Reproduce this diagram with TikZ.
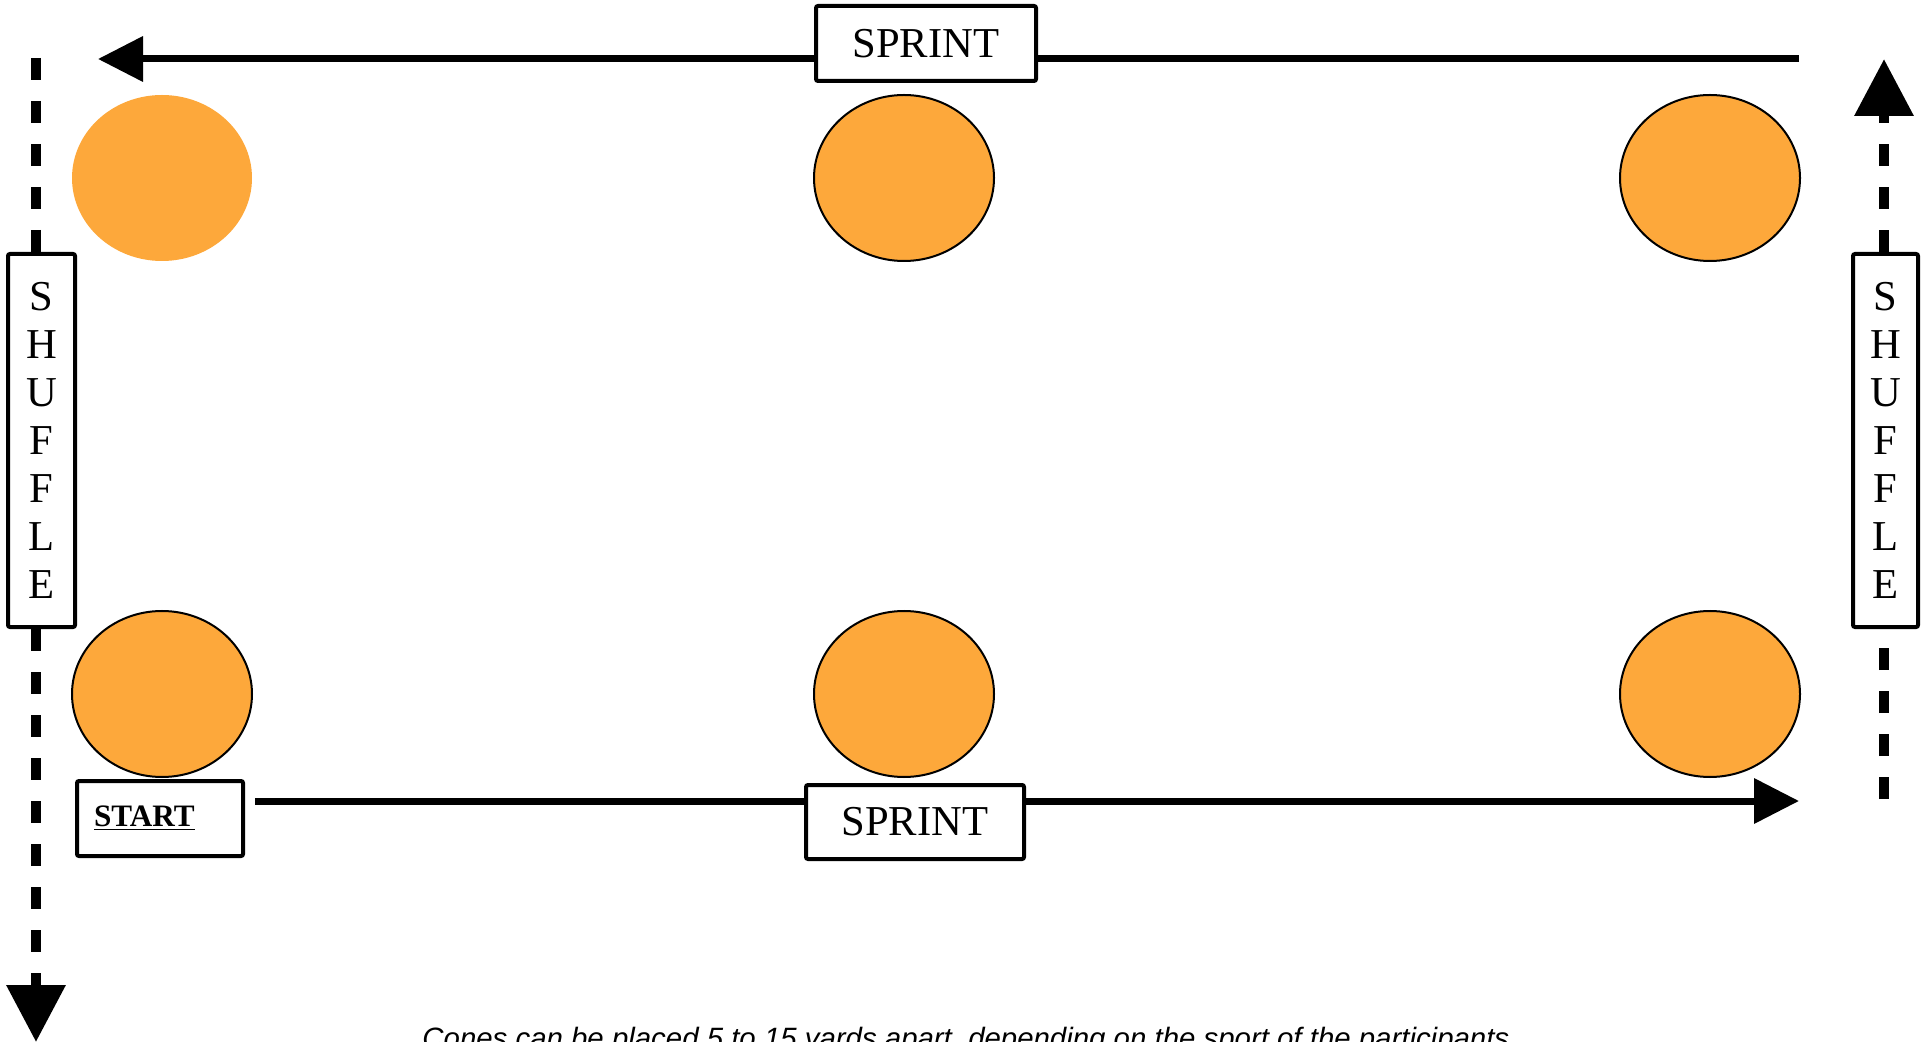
\documentclass[tikz,border=0pt]{standalone}
\usepackage{fontspec}
\setmainfont{Liberation Serif}
\newfontfamily\notefont{Liberation Sans}
\usetikzlibrary{arrows.meta, shapes.geometric}
\definecolor{ConeOrange}{RGB}{253,168,59}

\begin{document}
\begin{tikzpicture}[x=0.5pt, y=-0.5pt,
    cone/.style={ellipse, fill=ConeOrange, draw=black, line width=1pt, minimum width=90pt, minimum height=83pt, inner sep=0pt},
    labelbox/.style={draw, line width=2pt, fill=white, rounded corners=1pt, inner sep=0pt, font=\fontsize{21.3}{24}\selectfont},
    sprintline/.style={line width=3.5pt, -{Triangle[length=22.5pt, width=22pt]}},
    shuffleline/.style={line width=5pt, dash pattern=on 11pt off 10.5pt},
    shufflehead/.style={shuffleline, -{Triangle[length=28.5pt, width=28.5pt]}}]
    \useasboundingbox (0,0) rectangle (1927,1042);
    % cones
    \node[cone, draw=none] (c1) at (162,178) {};
    \node[cone] (c2) at (904,178) {};
    \node[cone] (c3) at (1710,178) {};
    \node[cone] (c4) at (162,694) {};
    \node[cone] (c5) at (904,694) {};
    \node[cone] (c6) at (1710,694) {};
    % sprint paths
    \coordinate (top0) at (1799,59);
    \coordinate (top1) at (98,59);
    \coordinate (bot0) at (255,801);
    \coordinate (bot1) at (1799,801);
    \draw[sprintline] (top0) -- (top1);
    \draw[sprintline] (bot0) -- (bot1);
    \node[labelbox, minimum width=110pt, minimum height=37.5pt] (sprinttop) at (926,43.5) {SPRINT};
    \node[labelbox, minimum width=109pt, minimum height=37pt] (sprintbot) at (915,822) {SPRINT};
    \node[labelbox, anchor=north west, minimum height=37.5pt, inner xsep=8.5pt, text width=66pt, align=left, font=\bfseries\fontsize{15.6}{18}\selectfont] (start) at (75,779) {\underline{START}};
    % shuffle sides
    \node[labelbox, minimum width=33.5pt, minimum height=186.5pt, align=center] (shufl) at (41.5,440.5) {S\\H\\U\\F\\F\\L\\E};
    \node[labelbox, minimum width=32.5pt, minimum height=186.5pt, align=center] (shufr) at (1885.5,440.5) {S\\H\\U\\F\\F\\L\\E};
    \coordinate (ltop) at (36,58);
    \coordinate (lend) at (36,1042);
    \coordinate (rbot) at (1884,799);
    \coordinate (rend) at (1884,59);
    \draw[shuffleline] (ltop) -- (ltop |- shufl.north);
    \draw[shufflehead] (lend |- shufl.south) -- (lend);
    \draw[shuffleline] (rbot) -- (rbot |- shufr.south);
    \draw[shufflehead] (rend |- shufr.north) -- (rend);
    % note
    \node[anchor=base, font=\notefont\itshape\fontsize{14.7}{17}\selectfont] (note) at (970,1048) {Cones can be placed 5 to 15 yards apart, depending on the sport of the participants.};
\end{tikzpicture}
\end{document}
